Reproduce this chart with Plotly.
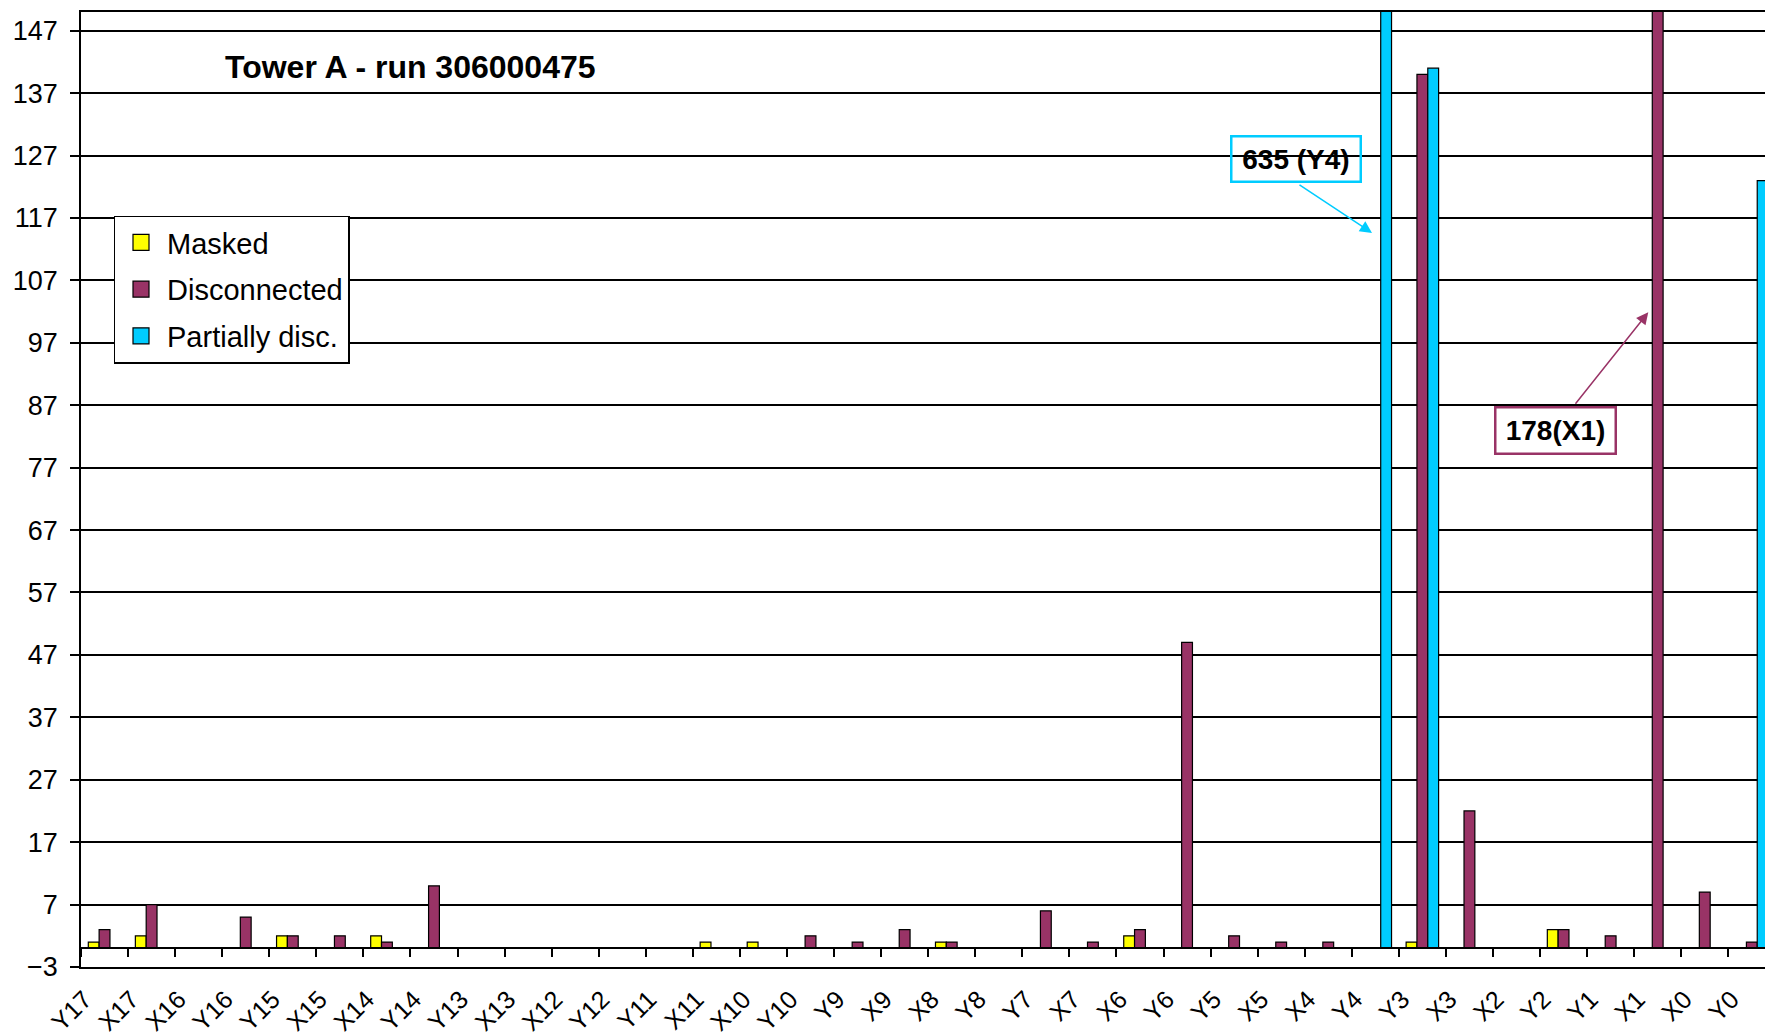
import plotly.graph_objects as go

categories = ["Y17","X17","X16","Y16","Y15","X15","X14","Y14","Y13","X13","X12","Y12",
              "Y11","X11","X10","Y10","Y9","X9","X8","Y8","Y7","X7","X6","Y6",
              "Y5","X5","X4","Y4","Y3","X3","X2","Y2","Y1","X1","X0","Y0"]
masked = [1,2,0,0,2,0,2,0,0,0,0,0,0,1,1,0,0,0,1,0,0,0,2,0,0,0,0,0,1,0,0,3,0,0,0,0]
disconnected = [3,7,0,5,2,2,1,10,0,0,0,0,0,0,0,2,1,3,1,0,6,1,3,49,2,1,1,0,140,22,0,3,2,178,9,1]
partially = [0,0,0,0,0,0,0,0,0,0,0,0,0,0,0,0,0,0,0,0,0,0,0,0,0,0,0,635,141,0,0,0,0,0,0,123]
series_names = ["Masked", "Disconnected", "Partially disc."]
colors = ["#FFFF00", "#993366", "#00CCFF"]
title_text = "Tower A - run 306000475"
y_ticks = list(range(-3, 148, 10))

FONT = "Liberation Sans, Arial, sans-serif"
fig = go.Figure()
for name, vals, col in zip(series_names, [masked, disconnected, partially], colors):
    fig.add_trace(go.Bar(x=categories, y=vals, name=name, marker_color=col,
                         marker_line=dict(color="black", width=1.2), showlegend=False))
# legend swatches
for name, col in zip(series_names, colors):
    fig.add_trace(go.Scatter(x=[None], y=[None], mode="markers", name=name, legendgroup=name,
                             marker=dict(symbol="square", size=19, color=col,
                                         line=dict(color="black", width=1.2))))
# helper trace for the category axis crossing at zero
fig.add_trace(go.Scatter(x=categories, y=[0]*len(categories), xaxis="x2", mode="markers",
                         marker=dict(opacity=0), hoverinfo="skip", showlegend=False))

xr = [-0.5, 35.28]
fig.update_layout(
    template="none",
    width=1765, height=1034,
    margin=dict(l=81, r=0, t=12, b=67, pad=0),
    paper_bgcolor="white", plot_bgcolor="white",
    barmode="group", bargap=0.31, bargroupgap=0,
    font=dict(family=FONT, size=26, color="black"),
    xaxis=dict(type="category", categoryorder="array", categoryarray=categories, range=xr,
               automargin=False, showline=True, linecolor="black", linewidth=1.5, mirror=True,
               ticks="", tickangle=-45, showgrid=False, ticklabelstandoff=6,
               ticklabelshift=-20, tickfont=dict(size=25)),
    xaxis2=dict(type="category", categoryorder="array", categoryarray=categories, range=xr,
                automargin=False, overlaying="x", anchor="free", position=3/153,
                tickson="boundaries", ticks="outside", ticklen=8, tickwidth=1.5,
                tickcolor="black", showticklabels=False, showline=True, linecolor="black",
                linewidth=1.5, showgrid=False, zeroline=False),
    yaxis=dict(range=[-3, 150], tickmode="array", tickvals=y_ticks, automargin=False,
               showgrid=True, gridcolor="black", gridwidth=1.6, zeroline=False,
               ticks="outside", ticklen=9, tickwidth=1.5, tickcolor="black",
               showline=True, linecolor="black", linewidth=1.5, mirror=True,
               ticklabelstandoff=7, tickfont=dict(size=27)),
    legend=dict(x=(113.5 - 81) / 1684, y=(966.7 - 215.3) / 955, xanchor="left", yanchor="top",
                bgcolor="white", bordercolor="black", borderwidth=1.5,
                font=dict(size=29), tracegroupgap=6, itemwidth=42),
    showlegend=True,
)
fig.add_annotation(text="<b>" + title_text + "</b>", xref="paper", yref="paper",
                   x=(223 - 81) / 1684, y=(966.7 - 67) / 955, xanchor="left", yanchor="middle",
                   showarrow=False, font=dict(size=32, color="black"))
# callout boxes
fig.add_annotation(text="<b>635 (Y4)</b>", x=25.32, y=126.4, showarrow=False,
                   width=127, height=43, borderpad=0, bordercolor="#00CCFF", borderwidth=2.5,
                   font=dict(size=28, color="black"))
fig.add_annotation(text="<b>178(X1)</b>", x=30.82, y=82.9, showarrow=False,
                   width=118, height=44, borderpad=0, bordercolor="#993366", borderwidth=2.5,
                   font=dict(size=28, color="black"))
# arrows
fig.add_annotation(text="", x=26.93, y=114.6, axref="pixel", ayref="pixel", ax=-74, ay=-49,
                   showarrow=True, arrowhead=2, arrowsize=1.6, arrowwidth=1.5,
                   arrowcolor="#00CCFF", standoff=0)
fig.add_annotation(text="", x=32.8, y=101.9, axref="pixel", ayref="pixel", ax=-74, ay=93,
                   showarrow=True, arrowhead=2, arrowsize=1.6, arrowwidth=1.5,
                   arrowcolor="#993366", standoff=0)

fig.write_html("out.html", config={"displayModeBar": False},
               post_script="document.body.style.margin='0';document.body.style.overflow='hidden';")
